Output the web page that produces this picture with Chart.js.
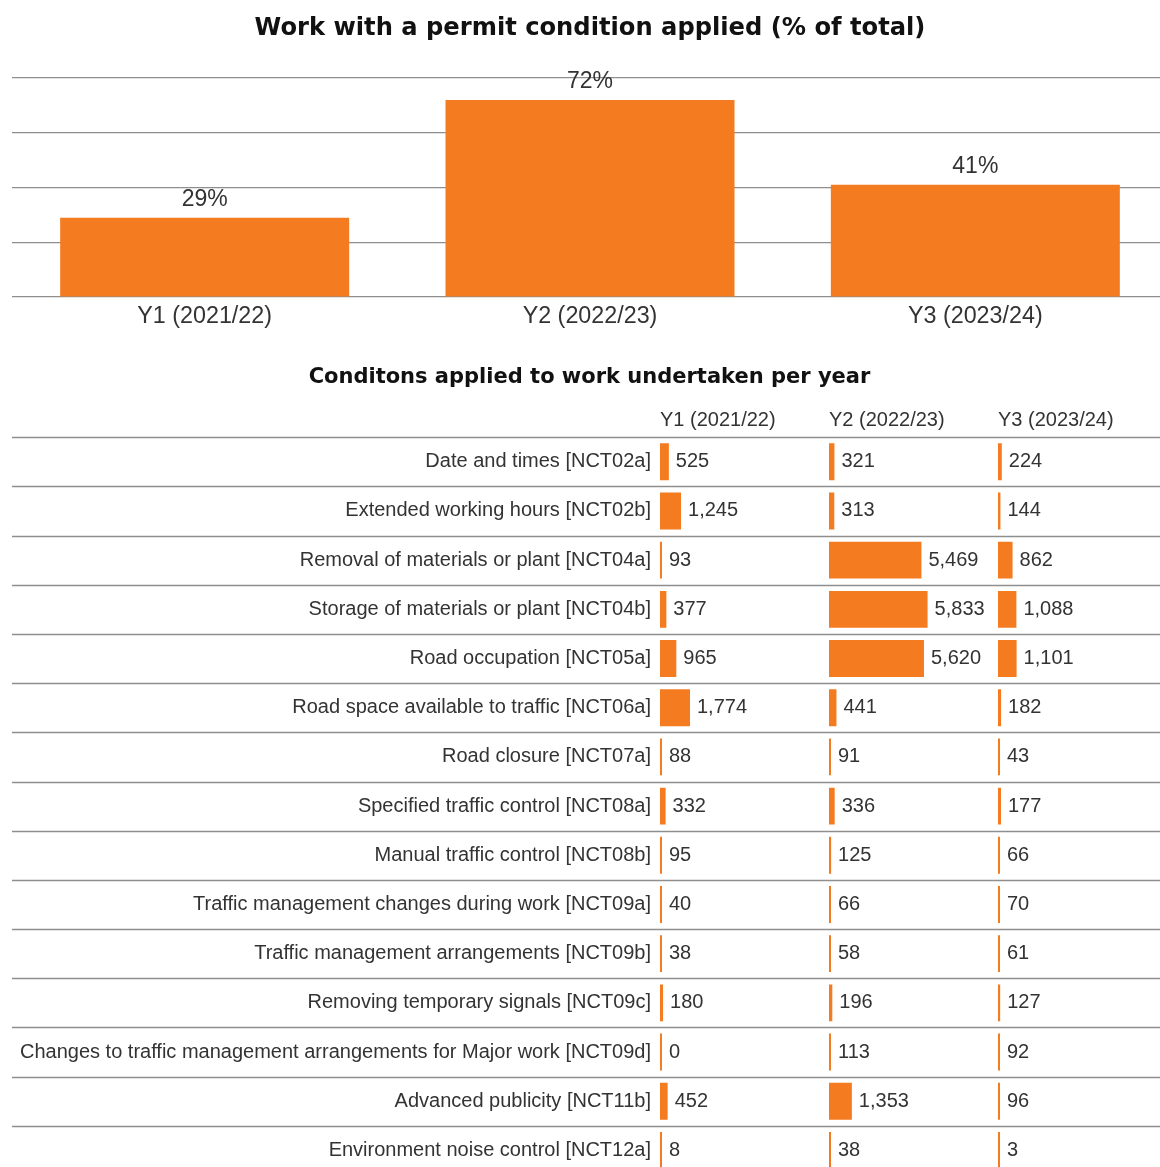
<!DOCTYPE html>
<html>
<head>
<meta charset="utf-8">
<script src="https://cdn.jsdelivr.net/npm/chart.js@4.4.1/dist/chart.umd.min.js"></script>
<style>
  html, body { margin: 0; padding: 0; background: #fff; overflow: hidden; }
  .box { position: relative; width: 1180px; }
</style>
</head>
<body>
<div class="box" style="height: 340px"><canvas id="share"></canvas></div>
<div class="box" style="height: 840px"><canvas id="conditions"></canvas></div>
<script>
const years = ['Y1 (2021/22)', 'Y2 (2022/23)', 'Y3 (2023/24)'];
const sharePct = [29, 72, 41];

const conditionNames = [
    'Date and times [NCT02a]',
    'Extended working hours [NCT02b]',
    'Removal of materials or plant [NCT04a]',
    'Storage of materials or plant [NCT04b]',
    'Road occupation [NCT05a]',
    'Road space available to traffic [NCT06a]',
    'Road closure [NCT07a]',
    'Specified traffic control [NCT08a]',
    'Manual traffic control [NCT08b]',
    'Traffic management changes during work [NCT09a]',
    'Traffic management arrangements [NCT09b]',
    'Removing temporary signals [NCT09c]',
    'Changes to traffic management arrangements for Major work [NCT09d]',
    'Advanced publicity [NCT11b]',
    'Environment noise control [NCT12a]'
];
const y1Counts = [525, 1245, 93, 377, 965, 1774, 88, 332, 95, 40, 38, 180, 0, 452, 8];
const y2Counts = [321, 313, 5469, 5833, 5620, 441, 91, 336, 125, 66, 58, 196, 113, 1353, 38];
const y3Counts = [224, 144, 862, 1088, 1101, 182, 43, 177, 66, 70, 61, 127, 92, 96, 3];

const ORANGE = '#f47b20';
const FONT = 'Liberation Sans, Arial, sans-serif';
const TITLE_FONT = 'DejaVu Sans, Verdana, sans-serif';
const TEXT = '#333';
const RULE = '#8e8e8e';

// value labels over the columns ("29%")
const pctLabels = {
    id: 'pctLabels',
    afterDatasetsDraw(chart) {
        const ctx = chart.ctx;
        const meta = chart.getDatasetMeta(0);
        ctx.save();
        ctx.font = '23px ' + FONT;
        ctx.fillStyle = TEXT;
        ctx.textAlign = 'center';
        ctx.textBaseline = 'alphabetic';
        meta.data.forEach((bar, i) => {
            ctx.fillText(sharePct[i] + '%', bar.x, bar.y - 12);
        });
        ctx.restore();
    }
};

// horizontal rules between rows, running under the row names too
const rowRules = {
    id: 'rowRules',
    beforeDatasetsDraw(chart) {
        const ctx = chart.ctx;
        const y = chart.scales.y;
        const step = y.getPixelForValue(1) - y.getPixelForValue(0);
        ctx.save();
        ctx.strokeStyle = RULE;
        ctx.lineWidth = 1.5;
        for (let i = 0; i <= conditionNames.length; i++) {
            const py = Math.round(y.getPixelForValue(i) - step / 2) + 0.5;
            ctx.beginPath();
            ctx.moveTo(12, py);
            ctx.lineTo(chart.chartArea.right, py);
            ctx.stroke();
        }
        ctx.restore();
    }
};

// counts written after the end of each bar
const countLabels = {
    id: 'countLabels',
    afterDatasetsDraw(chart) {
        const ctx = chart.ctx;
        ctx.save();
        ctx.font = '20px ' + FONT;
        ctx.fillStyle = TEXT;
        ctx.textAlign = 'left';
        ctx.textBaseline = 'middle';
        chart.data.datasets.forEach((ds, d) => {
            chart.getDatasetMeta(d).data.forEach((bar, i) => {
                ctx.fillText(ds.data[i].toLocaleString('en-US'), bar.x + 7, bar.y);
            });
        });
        ctx.restore();
    }
};

new Chart(document.getElementById('share'), {
    type: 'bar',
    data: {
        labels: years,
        datasets: [{
            data: sharePct,
            backgroundColor: ORANGE,
            categoryPercentage: 1,
            barPercentage: 0.75
        }]
    },
    options: {
        responsive: true,
        maintainAspectRatio: false,
        animation: false,
        layout: { padding: { left: 12, right: 12, bottom: 3 } },
        plugins: {
            legend: { display: false },
            tooltip: { enabled: false },
            title: {
                display: true,
                text: 'Work with a permit condition applied (% of total)',
                color: '#111',
                font: { family: TITLE_FONT, size: 24.2, weight: 'bold' },
                padding: { top: 14, bottom: 35 }
            }
        },
        scales: {
            x: {
                grid: { display: false, drawTicks: false },
                border: { display: false },
                ticks: { color: TEXT, font: { family: FONT, size: 23.3 }, padding: 6 }
            },
            y: {
                min: 0,
                max: 80,
                ticks: { display: false, stepSize: 20 },
                border: { display: false },
                grid: { color: RULE, lineWidth: 1.3, drawTicks: false }
            }
        }
    },
    plugins: [pctLabels]
});

// one value axis per year, stacked side by side along the top
const yearAxis = (i) => ({
    type: 'linear',
    position: 'top',
    stack: 'years',
    min: 0,
    max: 10000,
    grid: { display: false, drawTicks: false },
    border: { display: false },
    ticks: { display: false },
    title: {
        display: true,
        text: years[i],
        align: 'start',
        color: TEXT,
        font: { family: FONT, size: 20 },
        padding: { top: 3, bottom: 5 }
    }
});

const countSet = (data, axis) => ({
    data: data,
    xAxisID: axis,
    yAxisID: 'y',
    grouped: false,
    backgroundColor: ORANGE,
    categoryPercentage: 1,
    barPercentage: 0.75,
    minBarLength: 2
});

new Chart(document.getElementById('conditions'), {
    type: 'bar',
    data: {
        labels: conditionNames,
        datasets: [
            countSet(y1Counts, 'x1'),
            countSet(y2Counts, 'x2'),
            countSet(y3Counts, 'x3')
        ]
    },
    options: {
        indexAxis: 'y',
        responsive: true,
        maintainAspectRatio: false,
        animation: false,
        layout: { padding: { left: 12, right: 13, bottom: 5 } },
        plugins: {
            legend: { display: false },
            tooltip: { enabled: false },
            title: {
                display: true,
                text: 'Conditons applied to work undertaken per year',
                color: '#111',
                font: { family: TITLE_FONT, size: 21, weight: 'bold' },
                padding: { top: 25.4, bottom: 14.6 }
            }
        },
        scales: {
            // top boxes are laid out in reverse order, so Y3 is listed first
            x3: yearAxis(2),
            x2: yearAxis(1),
            x1: yearAxis(0),
            y: {
                grid: { display: false, drawTicks: false },
                border: { display: false },
                ticks: { color: TEXT, font: { family: FONT, size: 20 }, padding: 9 },
                afterFit(scale) {
                    scale.width = 648;
                    scale.paddingTop = 0;
                    scale.paddingBottom = 0;
                }
            }
        }
    },
    plugins: [rowRules, countLabels]
});
</script>
</body>
</html>
